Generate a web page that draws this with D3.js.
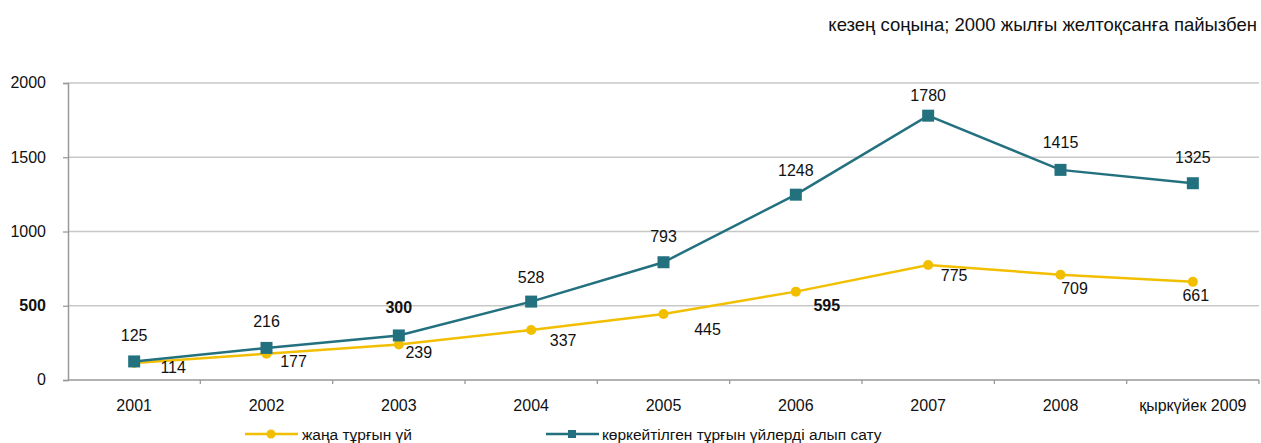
<!DOCTYPE html>
<html>
<head>
<meta charset="utf-8">
<script src="https://cdn.jsdelivr.net/npm/d3@7"></script>
<style>
  body { margin: 0; background: #fff; }
  text { font-family: "Liberation Sans", Arial, sans-serif; fill: #111; }
</style>
</head>
<body>
<div class="svg-container"></div>
<script>
// data
var categories = ["2001", "2002", "2003", "2004", "2005", "2006", "2007", "2008", "қыркүйек 2009"];
var newHousing = [114, 177, 239, 337, 445, 595, 775, 709, 661];
var resale = [125, 216, 300, 528, 793, 1248, 1780, 1415, 1325];
var yTicks = [0, 500, 1000, 1500, 2000];
var seriesNames = ["жаңа тұрғын үй", "көркейтілген тұрғын үйлерді алып сату"];
var subtitle = "кезең соңына; 2000 жылғы желтоқсанға пайызбен";

var yellow = "#F2BF00", teal = "#23717F";

var W = 1261, H = 443;
var margin = {top: 83, right: 2, bottom: 63, left: 68},
    width = W - margin.left - margin.right,
    height = H - margin.top - margin.bottom;

var svg = d3.select(".svg-container").append("svg")
  .attr("width", W).attr("height", H);

svg.append("text")
  .attr("x", 1257).attr("y", 31)
  .style("text-anchor", "end")
  .style("font-size", "18.5px")
  .text(subtitle);

var g = svg.append("g").attr("transform", "translate(" + margin.left + "," + margin.top + ")");

var x = d3.scaleBand().domain(categories).range([0, width]);
var y = d3.scaleLinear().domain([0, 2000]).range([height, 0]);
var cx = function(i) { return x(categories[i]) + x.bandwidth() / 2; };

// gridlines
g.selectAll(".grid").data(yTicks.slice(1)).enter().append("line")
  .attr("x1", 0).attr("x2", width)
  .attr("y1", function(d) { return y(d); }).attr("y2", function(d) { return y(d); })
  .style("stroke", "#c8c8c8").style("stroke-width", 1.3);

// y axis
var yAxis = g.append("g").call(d3.axisLeft(y).tickValues(yTicks).tickFormat(d3.format("d")).tickSize(5).tickPadding(17));
yAxis.select(".domain").style("stroke", "#999").style("stroke-width", 1.5);
yAxis.selectAll(".tick line").style("stroke", "#999").style("stroke-width", 1.3);
yAxis.selectAll(".tick text").style("font-size", "16px").style("fill", "#111")
  .style("font-family", "Liberation Sans, Arial, sans-serif")
  .attr("dy", "0.3em")
  .style("font-weight", function(d) { return d === 500 ? "bold" : null; });

// x axis with ticks at category borders
var xg = g.append("g").attr("transform", "translate(0," + height + ")");
xg.append("line").attr("x1", 0).attr("x2", width).attr("y1", 0).attr("y2", 0)
  .style("stroke", "#999").style("stroke-width", 1.5);
xg.selectAll(".xt").data(categories).enter().append("line")
  .attr("x1", function(d) { return x(d) + x.bandwidth(); })
  .attr("x2", function(d) { return x(d) + x.bandwidth(); })
  .attr("y1", 0).attr("y2", 4)
  .style("stroke", "#999").style("stroke-width", 1.3);
xg.selectAll(".xl").data(categories).enter().append("text")
  .attr("x", function(d) { return x(d) + x.bandwidth() / 2; })
  .attr("y", 31)
  .style("text-anchor", "middle").style("font-size", "16px")
  .text(function(d) { return d; });

var line = d3.line().x(function(d, i) { return cx(i); }).y(function(d) { return y(d); });

// yellow series
g.append("path").datum(newHousing).attr("d", line)
  .style("fill", "none").style("stroke", yellow).style("stroke-width", 2.5);
g.selectAll(".dot").data(newHousing).enter().append("circle")
  .attr("cx", function(d, i) { return cx(i); }).attr("cy", function(d) { return y(d); })
  .attr("r", 5).style("fill", yellow);

// teal series
g.append("path").datum(resale).attr("d", line)
  .style("fill", "none").style("stroke", teal).style("stroke-width", 2.5);
g.selectAll(".sq").data(resale).enter().append("rect")
  .attr("x", function(d, i) { return cx(i) - 6; }).attr("y", function(d) { return y(d) - 6; })
  .attr("width", 12).attr("height", 12).style("fill", teal);

// labels, yellow below right of point
var yellowDx = [39, 27, 20, 32, 44, 31, 26, 14, 3];
var yellowDy = [10, 13, 13, 16, 21, 19, 16, 19, 19];
g.selectAll(".yl").data(newHousing).enter().append("text")
  .attr("x", function(d, i) { return cx(i) + yellowDx[i]; })
  .attr("y", function(d, i) { return y(d) + yellowDy[i]; })
  .style("text-anchor", "middle").style("font-size", "16px")
  .style("font-weight", function(d) { return d === 595 ? "bold" : null; })
  .text(function(d) { return d; });

var tealDy = [-20, -21, -22, -19, -20, -19, -15, -22, -20];
g.selectAll(".tl").data(resale).enter().append("text")
  .attr("x", function(d, i) { return cx(i); })
  .attr("y", function(d, i) { return y(d) + tealDy[i]; })
  .style("text-anchor", "middle").style("font-size", "16px")
  .style("font-weight", function(d) { return d === 300 ? "bold" : null; })
  .text(function(d) { return d; });

// legend
var legend = svg.append("g").attr("transform", "translate(0,434)");
legend.append("line").attr("x1", 245).attr("x2", 298).attr("y1", 0).attr("y2", 0)
  .style("stroke", yellow).style("stroke-width", 2.5);
legend.append("circle").attr("cx", 271).attr("cy", 0).attr("r", 4.5).style("fill", yellow);
legend.append("text").attr("x", 302).attr("y", 5.5).style("font-size", "15.5px").text(seriesNames[0]);
legend.append("line").attr("x1", 546).attr("x2", 599).attr("y1", 0).attr("y2", 0)
  .style("stroke", teal).style("stroke-width", 2.5);
legend.append("rect").attr("x", 568).attr("y", -4).attr("width", 8).attr("height", 8).style("fill", teal);
legend.append("text").attr("x", 602).attr("y", 5.5).style("font-size", "15.5px").text(seriesNames[1]);
</script>
</body>
</html>
